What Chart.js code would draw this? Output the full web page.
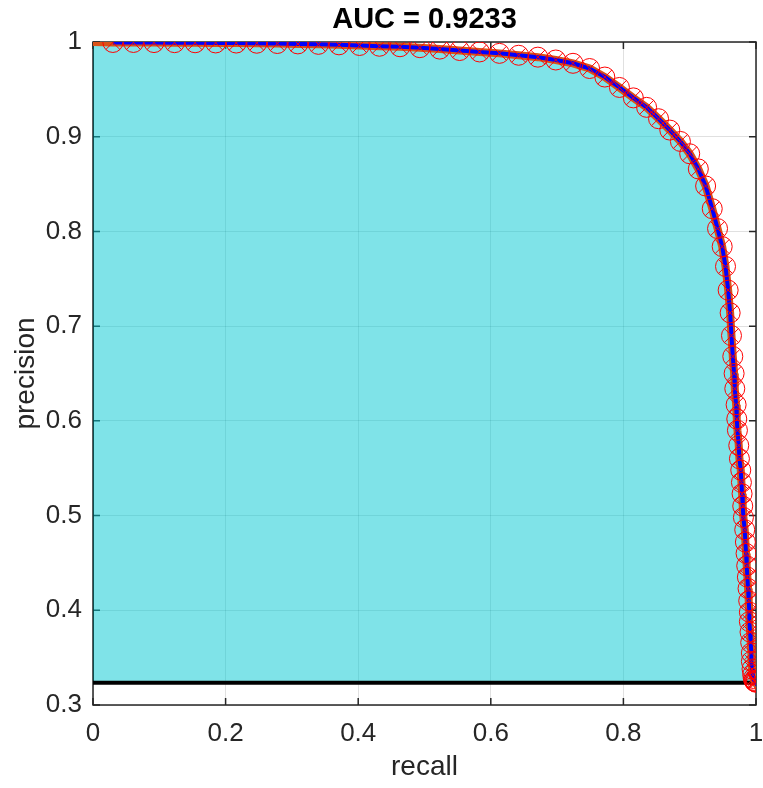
<!DOCTYPE html>
<html>
<head>
<meta charset="utf-8">
<script src="https://cdn.jsdelivr.net/npm/chart.js@4/dist/chart.umd.min.js"></script>
<style>
  body { margin: 0; background: #fff; }
  canvas { display: block; }
</style>
</head>
<body>
<canvas id="prChart" width="763" height="788"></canvas>
<script>
// pr curve data
const recall = [
  0.030, 0.061, 0.092, 0.123, 0.154, 0.185, 0.216, 0.247, 0.278, 0.309,
  0.340, 0.371, 0.402, 0.432, 0.463, 0.493, 0.523, 0.553, 0.583, 0.613,
  0.642, 0.671, 0.698, 0.724, 0.749, 0.772, 0.794, 0.815, 0.835, 0.853,
  0.870, 0.886, 0.900, 0.913, 0.924, 0.934, 0.942, 0.949, 0.954, 0.958,
  0.961, 0.963, 0.965, 0.967, 0.968, 0.970, 0.971, 0.972, 0.974, 0.975,
  0.977, 0.978, 0.979, 0.980, 0.981, 0.983, 0.984, 0.985, 0.986, 0.987,
  0.988, 0.989, 0.990, 0.990, 0.991, 0.992, 0.993, 0.993, 0.994, 0.995,
  0.996, 0.997, 0.998, 0.999, 1.000
];
const precision = [
  0.9995, 0.9995, 0.9994, 0.9993, 0.9992, 0.9990, 0.9989, 0.9987, 0.9984, 0.9980,
  0.9975, 0.9970, 0.9963, 0.9955, 0.9950, 0.9940, 0.9925, 0.9910, 0.9895, 0.9880,
  0.9860, 0.9840, 0.9810, 0.9775, 0.9720, 0.9630, 0.9520, 0.9410, 0.9310, 0.9190,
  0.9070, 0.8950, 0.8820, 0.8660, 0.8480, 0.8240, 0.8030, 0.7840, 0.7630, 0.7380,
  0.7140, 0.6900, 0.6680, 0.6500, 0.6340, 0.6170, 0.6020, 0.5900, 0.5740, 0.5600,
  0.5480, 0.5350, 0.5230, 0.5100, 0.4980, 0.4850, 0.4720, 0.4600, 0.4470, 0.4350,
  0.4230, 0.4100, 0.3980, 0.3880, 0.3770, 0.3660, 0.3550, 0.3460, 0.3380, 0.3320,
  0.3280, 0.3260, 0.3250, 0.3245, 0.3240
];
const startRecall = [0];
const startPrecision = [1];
const baselineRecall = [0, 1];
const baselinePrecision = [0.3235, 0.3235];
const xTickLabels = ['0', '0.2', '0.4', '0.6', '0.8', '1'];
const yTickLabels = ['0.3', '0.4', '0.5', '0.6', '0.7', '0.8', '0.9', '1'];
const titleText = 'AUC = 0.9233';

const toPoints = (xs, ys) => xs.map((x, i) => ({ x: x, y: ys[i] }));
const curve = toPoints(recall, precision);
const curveFromStart = toPoints(startRecall.concat(recall), startPrecision.concat(precision));
const fillCurve = toPoints([0].concat(startRecall, recall), [baselinePrecision[0]].concat(startPrecision, precision));

// matlab style box with inward ticks on all four sides
const boxPlugin = {
  id: 'matlabBox',
  beforeDatasetsDraw(chart) {
    const { ctx, chartArea: a, scales } = chart;
    ctx.save();
    ctx.strokeStyle = '#262626';
    ctx.lineWidth = 1.5;
    ctx.strokeRect(a.left, a.top, a.right - a.left, a.bottom - a.top);
    const tl = 7;
    ctx.beginPath();
    scales.x.ticks.forEach((t) => {
      const px = scales.x.getPixelForValue(t.value);
      ctx.moveTo(px, a.bottom); ctx.lineTo(px, a.bottom - tl);
      ctx.moveTo(px, a.top); ctx.lineTo(px, a.top + tl);
    });
    scales.y.ticks.forEach((t) => {
      const py = scales.y.getPixelForValue(t.value);
      ctx.moveTo(a.left, py); ctx.lineTo(a.left + tl, py);
      ctx.moveTo(a.right, py); ctx.lineTo(a.right - tl, py);
    });
    ctx.stroke();
    ctx.restore();
  }
};

const chartElement = document.getElementById('prChart');
if (chartElement) {
  new Chart(chartElement.getContext('2d'), {
    type: 'scatter',
    data: {
      datasets: [
        {
          // x markers
          data: curve,
          showLine: false,
          pointStyle: 'crossRot',
          pointRadius: 10,
          borderColor: '#FF0000',
          borderWidth: 1,
          order: 0
        },
        {
          // o markers
          data: curve,
          showLine: false,
          pointStyle: 'circle',
          pointRadius: 10,
          borderColor: '#FF0000',
          backgroundColor: 'rgba(0,0,0,0)',
          borderWidth: 1,
          order: 1
        },
        {
          data: curve,
          showLine: true,
          pointRadius: 0,
          borderColor: '#0000FF',
          borderWidth: 4,
          order: 2
        },
        {
          data: curveFromStart,
          showLine: true,
          pointRadius: 0,
          borderColor: '#D95319',
          borderWidth: 8,
          order: 3
        },
        {
          data: toPoints(baselineRecall, baselinePrecision),
          showLine: true,
          pointRadius: 0,
          borderColor: '#000000',
          borderWidth: 4,
          order: 4
        },
        {
          data: fillCurve,
          showLine: true,
          pointRadius: 0,
          borderColor: 'rgba(0, 50, 50, 0.7)',
          borderWidth: 2,
          backgroundColor: 'rgba(0, 200, 210, 0.5)',
          fill: { value: baselinePrecision[0] },
          order: 5
        }
      ]
    },
    options: {
      responsive: false,
      animation: false,
      devicePixelRatio: 1,
      layout: { autoPadding: false, padding: { left: 0, right: 7, top: 0, bottom: 0 } },
      plugins: {
        legend: { display: false },
        tooltip: { enabled: false },
        title: {
          display: true,
          fullSize: false,
          text: titleText,
          color: '#000000',
          font: { family: 'Liberation Sans, Arial, sans-serif', size: 29, weight: 'bold', lineHeight: 1.2 },
          padding: { top: 3, bottom: 4.2 }
        }
      },
      scales: {
        x: {
          type: 'linear',
          min: 0,
          max: 1,
          ticks: {
            stepSize: 0.2,
            color: '#262626',
            padding: 13,
            maxRotation: 0,
            font: { family: 'Liberation Sans, Arial, sans-serif', size: 26 },
            callback: (value, i) => xTickLabels[i]
          },
          grid: { color: 'rgba(0,0,0,0.12)', lineWidth: 1, drawTicks: false },
          border: { display: false },
          title: {
            display: true,
            text: 'recall',
            color: '#262626',
            font: { family: 'Liberation Sans, Arial, sans-serif', size: 28 },
            padding: { top: 4, bottom: 4 }
          },
          afterFit: (scale) => {
            scale.height = 83;
            scale.paddingLeft = 0;
            scale.paddingRight = 0;
          }
        },
        y: {
          type: 'linear',
          min: 0.3,
          max: 1,
          ticks: {
            stepSize: 0.1,
            color: '#262626',
            padding: 11,
            font: { family: 'Liberation Sans, Arial, sans-serif', size: 26 },
            callback: (value, i) => yTickLabels[i]
          },
          grid: { color: 'rgba(0,0,0,0.12)', lineWidth: 1, drawTicks: false },
          border: { display: false },
          title: {
            display: true,
            text: 'precision',
            color: '#262626',
            font: { family: 'Liberation Sans, Arial, sans-serif', size: 28 },
            padding: { top: 9, bottom: 4 }
          },
          afterFit: (scale) => {
            scale.width = 93;
            scale.paddingTop = 0;
            scale.paddingBottom = 0;
          }
        }
      }
    },
    plugins: [boxPlugin]
  });
} else {
  console.warn('Chart element #prChart not found.');
}
</script>
</body>
</html>
